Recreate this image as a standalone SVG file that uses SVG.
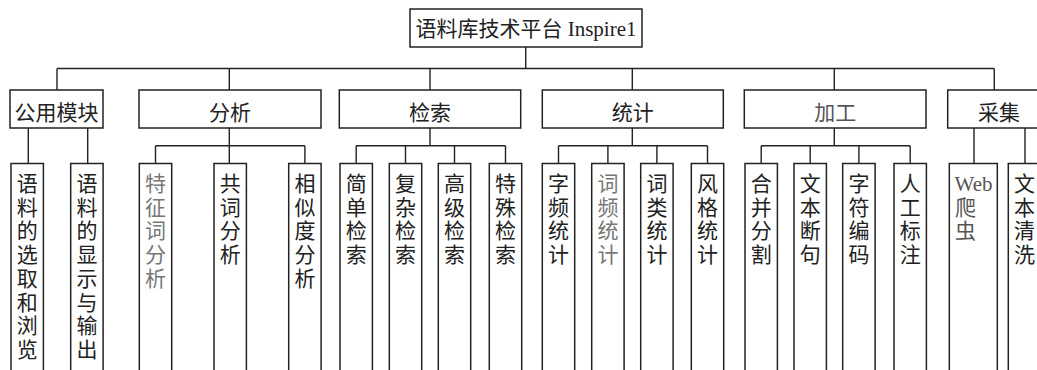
<svg xmlns="http://www.w3.org/2000/svg" width="1037" height="370" viewBox="0 0 1037 370">
<style>
.bx{fill:#fff;stroke:#222;stroke-width:1.5}
.ln{fill:none;stroke:#222;stroke-width:1.4}
.t{font-family:"Liberation Serif","Noto Sans CJK SC",serif;font-size:21px;fill:#222}
.m{text-anchor:middle}
.g{fill:#777}
.g2{fill:#555}
</style>
<rect width="1037" height="370" fill="#fff"/>
<g id="connectors">
<path class="ln" d="M525.7 47V68.5M57 68.5H994.3M57 68.5V90M229.3 68.5V90M430 68.5V90M632.3 68.5V90M834.3 68.5V90M994.3 68.5V90"/>
<path class="ln" d="M28.3 128V163.5M87.7 128V163.5"/>
<path class="ln" d="M229.3 128V145.7M155.5 145.7H304.9M155.5 145.7V163.5M229.3 145.7V163.5M304.9 145.7V163.5"/>
<path class="ln" d="M430 128V145.7M356.2 145.7H505.5M356.2 145.7V163.5M405.5 145.7V163.5M454.5 145.7V163.5M505.5 145.7V163.5"/>
<path class="ln" d="M632.3 128V145.7M558.5 145.7H707.5M558.5 145.7V163.5M607.9 145.7V163.5M656.9 145.7V163.5M707.5 145.7V163.5"/>
<path class="ln" d="M834.3 128V145.7M761.2 145.7H910.2M761.2 145.7V163.5M810.2 145.7V163.5M858.9 145.7V163.5M910.2 145.7V163.5"/>
<path class="ln" d="M974 128V163.5M1025 128V163.5"/>
</g>
<g id="root"><rect class="bx" x="410" y="9" width="232" height="38"/><text class="t m" x="526" y="36">语料库技术平台 Inspire1</text></g>
<g id="n-gongyong"><rect class="bx" x="10" y="90" width="93" height="38"/><text class="t m" x="56.5" y="119.5">公用模块</text></g>
<g id="n-fenxi"><rect class="bx" x="139" y="90" width="182" height="38"/><text class="t m" x="230" y="119.5">分析</text></g>
<g id="n-jiansuo"><rect class="bx" x="339.3" y="90" width="181.4" height="38"/><text class="t m" x="430" y="119.5">检索</text></g>
<g id="n-tongji"><rect class="bx" x="542.3" y="90" width="181" height="38"/><text class="t m" x="632.8" y="119.5">统计</text></g>
<g id="n-jiagong"><rect class="bx" x="744.3" y="90" width="181.7" height="38"/><text class="t m g2" x="835.2" y="119.5">加工</text></g>
<g id="n-caiji"><rect class="bx" x="947.7" y="90" width="100" height="38"/><text class="t m" x="999" y="119.5">采集</text></g>
<g id="l1"><rect class="bx" x="11" y="163.5" width="32.4" height="220"/><text class="t m" y="191"><tspan x="27.2">语</tspan><tspan x="27.2" dy="23.7">料</tspan><tspan x="27.2" dy="23.7">的</tspan><tspan x="27.2" dy="23.7">选</tspan><tspan x="27.2" dy="23.7">取</tspan><tspan x="27.2" dy="23.7">和</tspan><tspan x="27.2" dy="23.7">浏</tspan><tspan x="27.2" dy="23.7">览</tspan></text></g>
<g id="l2"><rect class="bx" x="70.7" y="163.5" width="32.4" height="220"/><text class="t m" y="191"><tspan x="86.9">语</tspan><tspan x="86.9" dy="23.7">料</tspan><tspan x="86.9" dy="23.7">的</tspan><tspan x="86.9" dy="23.7">显</tspan><tspan x="86.9" dy="23.7">示</tspan><tspan x="86.9" dy="23.7">与</tspan><tspan x="86.9" dy="23.7">输</tspan><tspan x="86.9" dy="23.7">出</tspan></text></g>
<g id="l3"><rect class="bx" x="139.3" y="163.5" width="32.4" height="220"/><text class="t m g" y="191"><tspan x="155.5">特</tspan><tspan x="155.5" dy="23.7">征</tspan><tspan x="155.5" dy="23.7">词</tspan><tspan x="155.5" dy="23.7">分</tspan><tspan x="155.5" dy="23.7">析</tspan></text></g>
<g id="l4"><rect class="bx" x="214" y="163.5" width="32.4" height="220"/><text class="t m" y="191"><tspan x="230.2">共</tspan><tspan x="230.2" dy="23.7">词</tspan><tspan x="230.2" dy="23.7">分</tspan><tspan x="230.2" dy="23.7">析</tspan></text></g>
<g id="l5"><rect class="bx" x="288.7" y="163.5" width="32.4" height="220"/><text class="t m" y="191"><tspan x="304.9">相</tspan><tspan x="304.9" dy="23.7">似</tspan><tspan x="304.9" dy="23.7">度</tspan><tspan x="304.9" dy="23.7">分</tspan><tspan x="304.9" dy="23.7">析</tspan></text></g>
<g id="l6"><rect class="bx" x="340" y="163.5" width="32.4" height="220"/><text class="t m" y="191"><tspan x="356.2">简</tspan><tspan x="356.2" dy="23.7">单</tspan><tspan x="356.2" dy="23.7">检</tspan><tspan x="356.2" dy="23.7">索</tspan></text></g>
<g id="l7"><rect class="bx" x="389.3" y="163.5" width="32.4" height="220"/><text class="t m" y="191"><tspan x="405.5">复</tspan><tspan x="405.5" dy="23.7">杂</tspan><tspan x="405.5" dy="23.7">检</tspan><tspan x="405.5" dy="23.7">索</tspan></text></g>
<g id="l8"><rect class="bx" x="438.3" y="163.5" width="32.4" height="220"/><text class="t m" y="191"><tspan x="454.5">高</tspan><tspan x="454.5" dy="23.7">级</tspan><tspan x="454.5" dy="23.7">检</tspan><tspan x="454.5" dy="23.7">索</tspan></text></g>
<g id="l9"><rect class="bx" x="489.3" y="163.5" width="32.4" height="220"/><text class="t m" y="191"><tspan x="505.5">特</tspan><tspan x="505.5" dy="23.7">殊</tspan><tspan x="505.5" dy="23.7">检</tspan><tspan x="505.5" dy="23.7">索</tspan></text></g>
<g id="l10"><rect class="bx" x="542.3" y="163.5" width="32.4" height="220"/><text class="t m" y="191"><tspan x="558.5">字</tspan><tspan x="558.5" dy="23.7">频</tspan><tspan x="558.5" dy="23.7">统</tspan><tspan x="558.5" dy="23.7">计</tspan></text></g>
<g id="l11"><rect class="bx" x="591.7" y="163.5" width="32.4" height="220"/><text class="t m g" y="191"><tspan x="607.9">词</tspan><tspan x="607.9" dy="23.7">频</tspan><tspan x="607.9" dy="23.7">统</tspan><tspan x="607.9" dy="23.7">计</tspan></text></g>
<g id="l12"><rect class="bx" x="640.7" y="163.5" width="32.4" height="220"/><text class="t m" y="191"><tspan x="656.9">词</tspan><tspan x="656.9" dy="23.7">类</tspan><tspan x="656.9" dy="23.7">统</tspan><tspan x="656.9" dy="23.7">计</tspan></text></g>
<g id="l13"><rect class="bx" x="691.3" y="163.5" width="32.4" height="220"/><text class="t m" y="191"><tspan x="707.5">风</tspan><tspan x="707.5" dy="23.7">格</tspan><tspan x="707.5" dy="23.7">统</tspan><tspan x="707.5" dy="23.7">计</tspan></text></g>
<g id="l14"><rect class="bx" x="745" y="163.5" width="32.4" height="220"/><text class="t m" y="191"><tspan x="761.2">合</tspan><tspan x="761.2" dy="23.7">并</tspan><tspan x="761.2" dy="23.7">分</tspan><tspan x="761.2" dy="23.7">割</tspan></text></g>
<g id="l15"><rect class="bx" x="794" y="163.5" width="32.4" height="220"/><text class="t m" y="191"><tspan x="810.2">文</tspan><tspan x="810.2" dy="23.7">本</tspan><tspan x="810.2" dy="23.7">断</tspan><tspan x="810.2" dy="23.7">句</tspan></text></g>
<g id="l16"><rect class="bx" x="842.7" y="163.5" width="32.4" height="220"/><text class="t m" y="191"><tspan x="858.9">字</tspan><tspan x="858.9" dy="23.7">符</tspan><tspan x="858.9" dy="23.7">编</tspan><tspan x="858.9" dy="23.7">码</tspan></text></g>
<g id="l17"><rect class="bx" x="894" y="163.5" width="32.4" height="220"/><text class="t m" y="191"><tspan x="910.2">人</tspan><tspan x="910.2" dy="23.7">工</tspan><tspan x="910.2" dy="23.7">标</tspan><tspan x="910.2" dy="23.7">注</tspan></text></g>
<g id="l18"><rect class="bx" x="949.3" y="163.5" width="48" height="220"/><text class="t g2" y="191"><tspan x="954.5" style="font-size:21px">Web</tspan><tspan x="955" dy="23.7">爬</tspan><tspan x="955" dy="23.7">虫</tspan></text></g>
<g id="l19"><rect class="bx" x="1008.3" y="163.5" width="32.4" height="220"/><text class="t m" y="191"><tspan x="1024.5">文</tspan><tspan x="1024.5" dy="23.7">本</tspan><tspan x="1024.5" dy="23.7">清</tspan><tspan x="1024.5" dy="23.7">洗</tspan></text></g>
</svg>
